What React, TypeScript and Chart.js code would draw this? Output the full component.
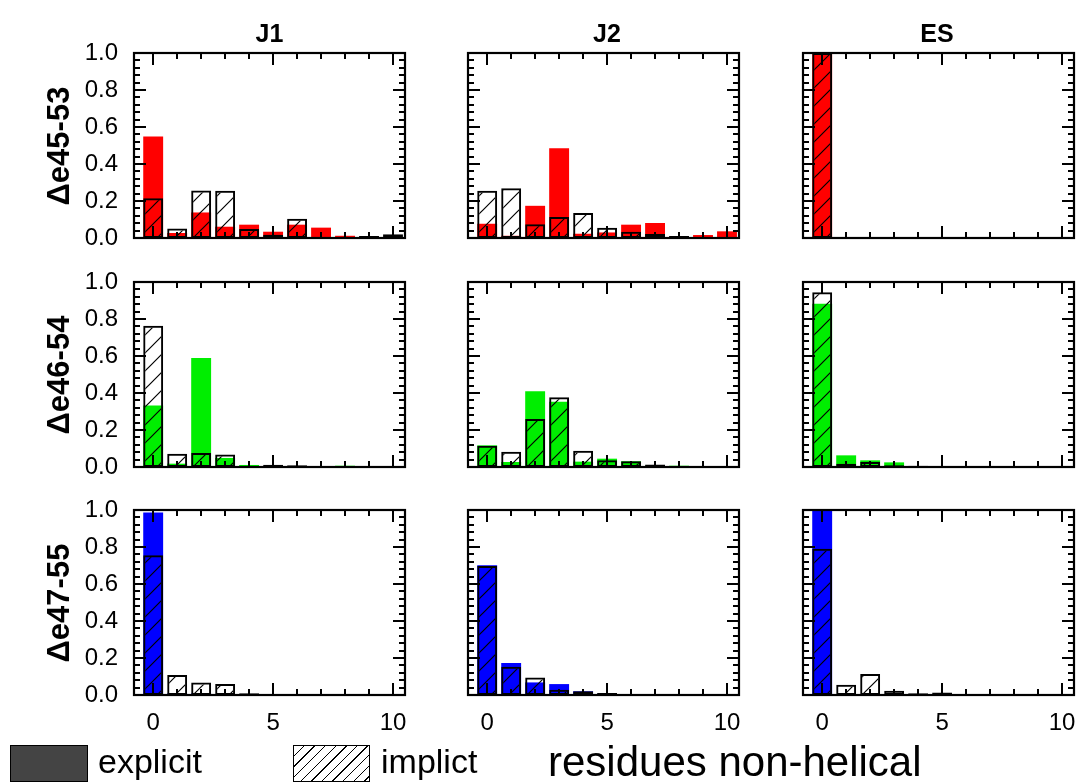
import React, { useEffect, useRef } from "react";
import { Chart, registerables } from "chart.js";

Chart.register(...registerables);

// ---------- data ----------
const residues = [0, 1, 2, 3, 4, 5, 6, 7, 8, 9, 10];
const columnTitles = ["J1", "J2", "ES"];
const rowLabels = ["Δe45-53", "Δe46-54", "Δe47-55"];
const rowColors = ["#ff0000", "#00ee00", "#0000ff"];
const xTickValues = [0, 5, 10];
const yTickValues = [0, 0.2, 0.4, 0.6, 0.8, 1.0];

// Δe45-53
const explicitJ1_45 = [0.548, 0.027, 0.138, 0.061, 0.072, 0.034, 0.072, 0.056, 0.012, 0, 0];
const implicitJ1_45 = [0.215, 0.052, 0.257, 0.255, 0.048, 0.018, 0.104, 0.005, 0, 0.011, 0.02];
const explicitJ2_45 = [0.077, 0.012, 0.174, 0.485, 0.023, 0.03, 0.072, 0.081, 0.004, 0.016, 0.036];
const implicitJ2_45 = [0.255, 0.269, 0.075, 0.113, 0.135, 0.056, 0.034, 0.022, 0.011, 0, 0];
const explicitES_45 = [1.0, 0, 0, 0, 0, 0, 0, 0, 0, 0, 0];
const implicitES_45 = [1.0, 0.005, 0, 0, 0, 0, 0, 0, 0, 0, 0];

// Δe46-54
const explicitJ1_46 = [0.333, 0.018, 0.589, 0.049, 0.011, 0.005, 0, 0, 0.007, 0, 0];
const implicitJ1_46 = [0.764, 0.072, 0.076, 0.068, 0, 0.012, 0.009, 0, 0, 0, 0];
const explicitJ2_46 = [0.117, 0.027, 0.409, 0.353, 0.029, 0.045, 0.031, 0.008, 0.007, 0, 0];
const implicitJ2_46 = [0.115, 0.083, 0.259, 0.377, 0.088, 0.036, 0.031, 0.013, 0, 0.004, 0];
const explicitES_46 = [0.883, 0.063, 0.036, 0.025, 0.004, 0, 0, 0, 0, 0, 0];
const implicitES_46 = [0.944, 0.018, 0.027, 0.009, 0.007, 0, 0, 0, 0, 0, 0];

// Δe47-55
const explicitJ1_47 = [0.986, 0.009, 0.009, 0.004, 0, 0, 0, 0, 0, 0, 0];
const implicitJ1_47 = [0.755, 0.108, 0.068, 0.059, 0.009, 0.004, 0.003, 0, 0, 0, 0];
const explicitJ2_47 = [0.701, 0.173, 0.068, 0.059, 0.02, 0.008, 0, 0, 0, 0, 0];
const implicitJ2_47 = [0.697, 0.153, 0.095, 0.029, 0.02, 0.011, 0, 0, 0, 0, 0];
const explicitES_47 = [1.0, 0, 0, 0, 0, 0, 0, 0, 0, 0, 0];
const implicitES_47 = [0.791, 0.056, 0.114, 0.023, 0.009, 0.014, 0.003, 0, 0, 0, 0];

const explicitData = [
  [explicitJ1_45, explicitJ2_45, explicitES_45],
  [explicitJ1_46, explicitJ2_46, explicitES_46],
  [explicitJ1_47, explicitJ2_47, explicitES_47],
];
const implicitData = [
  [implicitJ1_45, implicitJ2_45, implicitES_45],
  [implicitJ1_46, implicitJ2_46, implicitES_46],
  [implicitJ1_47, implicitJ2_47, implicitES_47],
];

// ---------- layout ----------
const FONT = "'Liberation Sans', Arial, Helvetica, sans-serif";
const colLeft = [134, 468, 803];
const rowTop = [53, 282, 510];
const plotW = 271;
const plotH = 185;
const titleCenters = [269.5, 607, 937];
const PAD = 40;
const Y_AXIS_W = 90;
const X_AXIS_H = 45;
const HATCH = 18;

Chart.defaults.font.family = FONT;
Chart.defaults.color = "#000";

function makeHatch(): CanvasPattern | string {
  const c = document.createElement("canvas");
  c.width = HATCH;
  c.height = HATCH;
  const g = c.getContext("2d");
  if (!g) return "rgba(0,0,0,0)";
  g.strokeStyle = "#000";
  g.lineWidth = 1.2;
  g.beginPath();
  g.moveTo(0, HATCH);
  g.lineTo(HATCH, 0);
  g.moveTo(-2, 2);
  g.lineTo(2, -2);
  g.moveTo(HATCH - 2, HATCH + 2);
  g.lineTo(HATCH + 2, HATCH - 2);
  g.stroke();
  const p = g.createPattern(c, "repeat");
  return p || "rgba(0,0,0,0)";
}

const frameTicks = {
  id: "frameTicks",
  afterDatasetsDraw(chart: any) {
    const { ctx, chartArea: a, scales } = chart;
    const x = scales.x;
    const y = scales.y;
    ctx.save();
    ctx.strokeStyle = "#000";
    ctx.lineWidth = 2;
    ctx.beginPath();
    for (const v of residues) {
      const px = Math.round(x.getPixelForValue(v));
      const len = xTickValues.includes(v) ? 12 : 6;
      ctx.moveTo(px, a.bottom);
      ctx.lineTo(px, a.bottom - len);
      ctx.moveTo(px, a.top);
      ctx.lineTo(px, a.top + len);
    }
    for (let k = 0; k <= 25; k++) {
      const v = k * 0.04;
      const py = Math.round(y.getPixelForValue(v));
      const len = k % 5 === 0 ? 12 : 6;
      ctx.moveTo(a.left, py);
      ctx.lineTo(a.left + len, py);
      ctx.moveTo(a.right, py);
      ctx.lineTo(a.right - len, py);
    }
    ctx.stroke();
    ctx.lineWidth = 2.2;
    ctx.strokeRect(a.left, a.top, a.right - a.left, a.bottom - a.top);
    ctx.restore();
  },
};

function Panel({ row, col }: { row: number; col: number }) {
  const ref = useRef<HTMLCanvasElement>(null);
  const showY = col === 0;
  const showX = row === 2;
  const padL = PAD + (showY ? Y_AXIS_W : 0);
  const padB = PAD + (showX ? X_AXIS_H : 0);
  const left = colLeft[col] - padL;
  const top = rowTop[row] - PAD;
  const width = plotW + padL + PAD;
  const height = plotH + PAD + padB;

  useEffect(() => {
    const canvas = ref.current;
    if (!canvas) return;
    const hatch = makeHatch();
    const chart = new Chart(canvas, {
      type: "bar",
      data: {
        datasets: [
          {
            label: "implicit",
            data: residues.map((r, i) => ({ x: r, y: implicitData[row][col][i] })),
            backgroundColor: hatch as any,
            borderColor: "#000",
            borderWidth: 2,
            borderSkipped: false,
            grouped: false,
            barPercentage: 0.83,
            categoryPercentage: 1,
          } as any,
          {
            label: "explicit",
            data: residues.map((r, i) => ({ x: r, y: explicitData[row][col][i] })),
            backgroundColor: rowColors[row],
            borderWidth: 0,
            grouped: false,
            barPercentage: 0.83,
            categoryPercentage: 1,
          } as any,
        ],
      },
      options: {
        animation: false,
        responsive: false,
        maintainAspectRatio: false,
        events: [],
        layout: {
          padding: { left: PAD, right: PAD, top: PAD, bottom: PAD },
        },
        plugins: {
          legend: { display: false },
          tooltip: { enabled: false },
          title: { display: false },
        },
        scales: {
          x: {
            type: "linear",
            min: -0.8,
            max: 10.5,
            offset: false,
            display: showX,
            grid: { display: false, drawTicks: false, offset: false },
            border: { display: false },
            ticks: {
              font: { size: 24, family: FONT },
              color: "#000",
              padding: 14,
              autoSkip: false,
              maxRotation: 0,
              minRotation: 0,
              callback: (v: any) => String(v),
            },
            afterBuildTicks: (s: any) => {
              s.ticks = xTickValues.map((v) => ({ value: v }));
            },
            afterFit: (s: any) => {
              s.height = showX ? X_AXIS_H : 0;
            },
          },
          y: {
            type: "linear",
            min: 0,
            max: 1,
            display: showY,
            grid: { display: false, drawTicks: false },
            border: { display: false },
            ticks: {
              font: { size: 24, family: FONT },
              color: "#000",
              padding: 16,
              autoSkip: false,
              callback: (v: any) => Number(v).toFixed(1),
            },
            afterBuildTicks: (s: any) => {
              s.ticks = yTickValues.map((v) => ({ value: v }));
            },
            afterFit: (s: any) => {
              s.width = showY ? Y_AXIS_W : 0;
            },
          },
        },
      } as any,
      plugins: [frameTicks],
    });
    return () => chart.destroy();
  }, [row, col]);

  return (
    <canvas
      ref={ref}
      width={width}
      height={height}
      style={{ position: "absolute", left, top, width, height }}
    />
  );
}

export default function App() {
  const panels: JSX.Element[] = [];
  for (let r = 0; r < 3; r++) {
    for (let c = 0; c < 3; c++) {
      panels.push(<Panel key={`${r}-${c}`} row={r} col={c} />);
    }
  }
  return (
    <div
      style={{
        position: "absolute",
        left: 0,
        top: 0,
        width: 1080,
        height: 783,
        overflow: "hidden",
        background: "#fff",
        fontFamily: FONT,
        color: "#000",
      }}
    >
      {panels}
      {columnTitles.map((t, i) => (
        <div
          key={t}
          style={{
            position: "absolute",
            left: titleCenters[i],
            top: 21,
            transform: "translateX(-50%)",
            fontSize: 25,
            fontWeight: "bold",
            lineHeight: "25px",
            whiteSpace: "nowrap",
          }}
        >
          {t}
        </div>
      ))}
      {rowLabels.map((t, i) => (
        <div
          key={t}
          style={{
            position: "absolute",
            left: 58,
            top: rowTop[i] + plotH / 2,
            transform: "translate(-50%, -50%) rotate(-90deg)",
            fontSize: 31,
            fontWeight: "bold",
            lineHeight: "31px",
            whiteSpace: "nowrap",
          }}
        >
          {t}
        </div>
      ))}
      {/* legend */}
      <div
        style={{
          position: "absolute",
          left: 10,
          top: 745,
          width: 78,
          height: 37,
          boxSizing: "border-box",
          background: "#444",
          border: "1px solid #000",
        }}
      />
      <div
        style={{
          position: "absolute",
          left: 98,
          top: 744,
          fontSize: 34,
          lineHeight: "34px",
          whiteSpace: "nowrap",
        }}
      >
        explicit
      </div>
      <div
        style={{
          position: "absolute",
          left: 293,
          top: 745,
          width: 77,
          height: 37,
          boxSizing: "border-box",
          border: "1px solid #000",
          background:
            "repeating-linear-gradient(135deg, #fff 0px, #fff 6.5px, #000 6.5px, #000 7.5px)",
        }}
      />
      <div
        style={{
          position: "absolute",
          left: 381,
          top: 744,
          fontSize: 34,
          lineHeight: "34px",
          whiteSpace: "nowrap",
        }}
      >
        implict
      </div>
      <div
        style={{
          position: "absolute",
          left: 548,
          top: 741,
          fontSize: 42,
          lineHeight: "42px",
          whiteSpace: "nowrap",
        }}
      >
        residues non-helical
      </div>
    </div>
  );
}
